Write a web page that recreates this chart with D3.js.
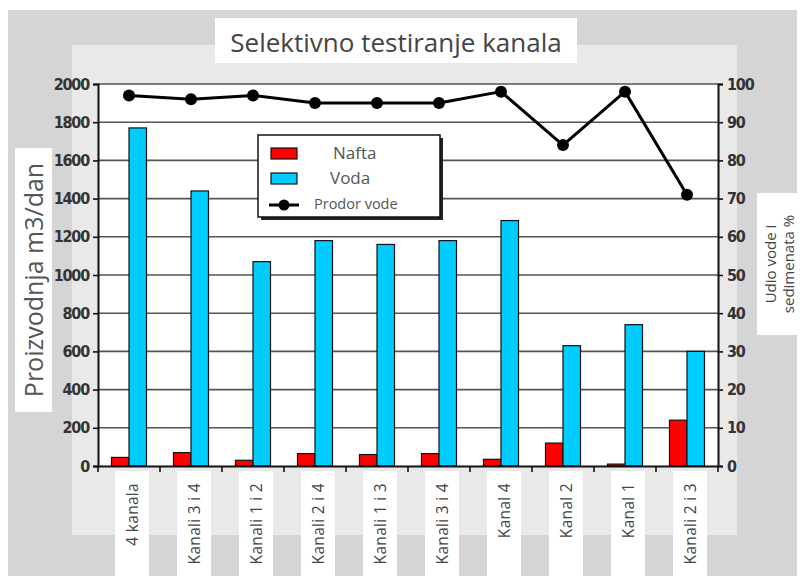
<!DOCTYPE html>
<html>
<head>
<meta charset="utf-8">
<script src="https://cdn.jsdelivr.net/npm/d3@7"></script>
<style>
  html, body { margin: 0; padding: 0; background: #fff; }
  svg { display: block; }
</style>
</head>
<body>
<svg id="chart" width="808" height="576"></svg>
<script>
// Channel test results
const categories = ["4 kanala", "Kanali 3 i 4", "Kanali 1 i 2", "Kanali 2 i 4", "Kanali 1 i 3",
                    "Kanali 3 i 4 ", "Kanal 4", "Kanal 2", "Kanal 1", "Kanali 2 i 3"];
const nafta = [45, 70, 30, 65, 60, 65, 35, 120, 10, 240];
const voda = [1770, 1440, 1070, 1180, 1160, 1180, 1285, 630, 740, 600];
const prodorVode = [97, 96, 97, 95, 95, 95, 98, 84, 98, 71];
const leftTicks = [0, 200, 400, 600, 800, 1000, 1200, 1400, 1600, 1800, 2000];
const rightTicks = [0, 10, 20, 30, 40, 50, 60, 70, 80, 90, 100];

const svg = d3.select("#chart");
const plot = { left: 98, right: 718, top: 84, bottom: 466 };

// Backdrop panels
svg.append("rect").attr("x", 8).attr("y", 10).attr("width", 789).attr("height", 566).attr("fill", "#d5d5d5");
svg.append("rect").attr("x", 72).attr("y", 45).attr("width", 665).attr("height", 490).attr("fill", "#e9e9e9");

const x = d3.scaleBand().domain(categories).range([plot.left, plot.right]);
const yL = d3.scaleLinear().domain([0, 2000]).range([plot.bottom, plot.top]);
const yR = d3.scaleLinear().domain([0, 100]).range([plot.bottom, plot.top]);

// Label boxes
svg.append("rect").attr("x", 215).attr("y", 18).attr("width", 362).attr("height", 45).attr("fill", "#fff");
svg.append("rect").attr("x", 15).attr("y", 148).attr("width", 37).attr("height", 264).attr("fill", "#fff");
svg.append("rect").attr("x", 757).attr("y", 193).attr("width", 42).attr("height", 142).attr("fill", "#fff");
svg.selectAll("rect.xbox").data(categories).join("rect")
  .attr("class", "xbox")
  .attr("x", d => x(d) + x.bandwidth() / 2 - 14)
  .attr("y", 471).attr("width", 34).attr("height", 105).attr("fill", "#fff");

// Plot area
svg.append("rect").attr("x", plot.left).attr("y", plot.top)
  .attr("width", plot.right - plot.left).attr("height", plot.bottom - plot.top).attr("fill", "#fff");

// Gridlines
svg.append("g").selectAll("line").data(leftTicks.slice(1)).join("line")
  .attr("x1", plot.left).attr("x2", plot.right)
  .attr("y1", d => yL(d)).attr("y2", d => yL(d))
  .attr("stroke", "#555").attr("stroke-width", 1.6);

// Bars
const bw = 17.5;
const cx = d => x(d) + x.bandwidth() / 2;
svg.append("g").selectAll("rect").data(categories).join("rect")
  .attr("x", (d) => cx(d) - bw)
  .attr("y", (d, i) => yL(nafta[i]))
  .attr("width", bw)
  .attr("height", (d, i) => plot.bottom - yL(nafta[i]))
  .attr("fill", "#ff0000").attr("stroke", "#111").attr("stroke-width", 1.2);
svg.append("g").selectAll("rect").data(categories).join("rect")
  .attr("x", (d) => cx(d))
  .attr("y", (d, i) => yL(voda[i]))
  .attr("width", bw)
  .attr("height", (d, i) => plot.bottom - yL(voda[i]))
  .attr("fill", "#00ccff").attr("stroke", "#111").attr("stroke-width", 1.2);

// Water cut line
const line = d3.line().x((d, i) => cx(categories[i])).y(d => yR(d));
svg.append("path").datum(prodorVode).attr("d", line)
  .attr("fill", "none").attr("stroke", "#000").attr("stroke-width", 3).attr("stroke-linejoin", "round");
svg.append("g").selectAll("circle").data(prodorVode).join("circle")
  .attr("cx", (d, i) => cx(categories[i])).attr("cy", d => yR(d)).attr("r", 6).attr("fill", "#000");

// Axes
const tickFont = "'Liberation Sans Narrow', 'DejaVu Sans Condensed', 'Liberation Sans', sans-serif";
const gl = svg.append("g").attr("transform", `translate(${plot.left},0)`)
  .call(d3.axisLeft(yL).tickValues(leftTicks).tickSize(5).tickPadding(4).tickFormat(d3.format("d")));
const gr = svg.append("g").attr("transform", `translate(${plot.right},0)`)
  .call(d3.axisRight(yR).tickValues(rightTicks).tickSize(5).tickPadding(4).tickFormat(d3.format("d")));
const gb = svg.append("g").attr("transform", `translate(0,${plot.bottom})`)
  .call(d3.axisBottom(x).tickValues([]).tickSizeOuter(0));
[gl, gr].forEach(g => {
  g.select(".domain").attr("stroke", "#111").attr("stroke-width", 2);
  g.selectAll(".tick line").attr("stroke", "#111").attr("stroke-width", 1.6);
  g.selectAll(".tick text").attr("fill", "#333").attr("font-size", 16).attr("font-weight", "bold")
    .attr("letter-spacing", -1.2).style("font-family", tickFont);
});
gb.select(".domain").attr("stroke", "#111").attr("stroke-width", 2);
// Category separator ticks
const bounds = categories.map(d => x(d)).concat([plot.right]);
svg.append("g").selectAll("line").data(bounds).join("line")
  .attr("x1", d => d).attr("x2", d => d).attr("y1", plot.bottom).attr("y2", plot.bottom + 6)
  .attr("stroke", "#111").attr("stroke-width", 1.6);

// Category labels
svg.append("g").selectAll("text").data(categories).join("text")
  .attr("transform", d => `translate(${cx(d) + 9},483) rotate(-90)`)
  .attr("text-anchor", "end")
  .attr("font-size", 15.5).attr("letter-spacing", 0.3).attr("fill", "#444")
  .style("font-family", "'Open Sans', 'DejaVu Sans', sans-serif")
  .text(d => d.trim());

// Title and axis titles
svg.append("text").attr("x", 396).attr("y", 52).attr("text-anchor", "middle")
  .attr("font-size", 26).attr("fill", "#444").style("font-family", "'Open Sans', sans-serif")
  .text("Selektivno testiranje kanala");
svg.append("text").attr("transform", "translate(43,280) rotate(-90)").attr("text-anchor", "middle")
  .attr("font-size", 25).attr("fill", "#555").style("font-family", "'Open Sans', sans-serif")
  .text("Proizvodnja m3/dan");
const rl = svg.append("text").attr("transform", "translate(780,264) rotate(-90)").attr("text-anchor", "middle")
  .attr("font-size", 15).attr("fill", "#444").style("font-family", "'Open Sans', sans-serif");
rl.append("tspan").attr("x", 0).attr("dy", -4).text("Udio vode i");
rl.append("tspan").attr("x", 0).attr("dy", 18).text("sedimenata %");

// Legend
const lg = svg.append("g").attr("transform", "translate(258,135)");
lg.append("rect").attr("x", 3).attr("y", 3).attr("width", 182).attr("height", 82).attr("fill", "#222");
lg.append("rect").attr("x", 0).attr("y", 0).attr("width", 182).attr("height", 82)
  .attr("fill", "#fff").attr("stroke", "#111").attr("stroke-width", 1.5);
const legendItems = [
  { label: "Nafta", color: "#ff0000", tx: 75, size: 17 },
  { label: "Voda", color: "#00ccff", tx: 72, size: 17 },
  { label: "Prodor vode", color: null, tx: 56, size: 14.5 }
];
legendItems.forEach((it, i) => {
  const yy = 18 + i * 25;
  if (it.color) {
    lg.append("rect").attr("x", 13).attr("y", yy - 5).attr("width", 26).attr("height", 11)
      .attr("fill", it.color).attr("stroke", "#111").attr("stroke-width", 1.2);
  } else {
    lg.append("line").attr("x1", 11).attr("x2", 41).attr("y1", yy + 2).attr("y2", yy + 2)
      .attr("stroke", "#000").attr("stroke-width", 3);
    lg.append("circle").attr("cx", 26).attr("cy", yy + 2).attr("r", 5.5).attr("fill", "#000");
  }
  lg.append("text").attr("x", it.tx).attr("y", yy + 6).attr("font-size", it.size).attr("fill", "#555")
    .style("font-family", "'Open Sans', sans-serif").text(it.label);
});
</script>
</body>
</html>
